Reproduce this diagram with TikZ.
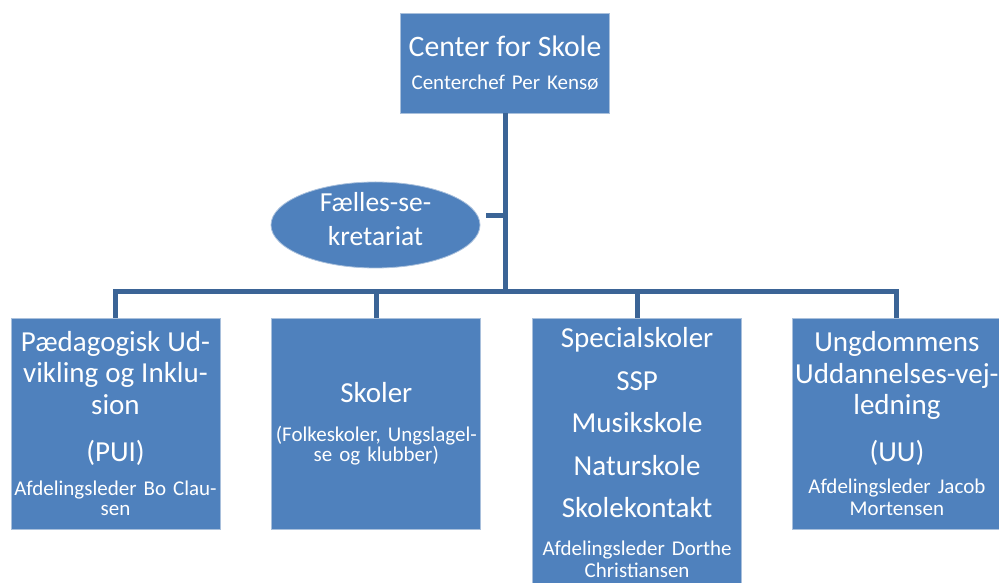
\documentclass[tikz,border=0pt]{standalone}
\usepackage{fontspec}
\setmainfont{Carlito}
\usetikzlibrary{positioning}
\usetikzlibrary{shapes.geometric}
\definecolor{orgfill}{HTML}{4F81BD}
\definecolor{orgline}{HTML}{3B6496}
\definecolor{orgedge}{HTML}{A9C0DC}
\newcommand{\bigtxt}{\fontsize{29}{31.5}\selectfont}
\newcommand{\smalltxt}{\fontsize{21}{20}\selectfont\lineskiplimit=-30pt\relax}
\begin{document}
\begin{tikzpicture}[x=1pt,y=1pt,
  node distance = 51pt,
  box/.style = {rectangle,draw=orgedge,line width=0.8pt,fill=orgfill,text=white,
  minimum width=209pt,minimum height=211pt,inner xsep=0.5pt,inner ysep=4pt,
  text width=208pt,align=center,font=\smalltxt},
  oval/.style = {ellipse,draw=orgedge,line width=0.8pt,fill=orgfill,text=white,
  minimum width=209pt,minimum height=86pt,inner sep=0pt,
  font=\fontsize{27.5}{34}\selectfont},
  conn/.style = {orgline,line width=5pt}]
 \useasboundingbox (0,0) rectangle (999,583);
 \node[box,minimum width=208pt,minimum height=100pt] (c0) at (505,520)
   {{\fontsize{29.7}{34}\selectfont Center for Skole\\[13pt]}Centerchef Per Kensø};
 \node[oval] (e1) at (375.5,358)
   {\raisebox{-2.5pt}[0pt][0pt]{\begin{tabular}{@{}c@{}}Fælles-se-\\kretariat\end{tabular}}};
 \node[box] (b1) at (115.5,159.5)
   {{\bigtxt Pædagogisk Ud-\\vikling og Inklu-\\sion\\[15.5pt](PUI)\\[14pt]}Afdelingsleder Bo Clau-\\sen};
 \node[box,right=of b1] (b2)
   {{\bigtxt Skoler\\[19pt]}(Folkeskoler, Ungslagel-\\se og klubber)};
 \node[box,anchor=north west,minimum height=0pt,inner ysep=9.5pt]
   (b3) at ([xshift=51pt]b2.north east)
   {{\fontsize{29}{42.5}\selectfont Specialskoler\\SSP\\Musikskole\\Naturskole\\Skolekontakt\\[18pt]}Afdelingsleder Dorthe\\[1.5pt]Christiansen\rule[-10pt]{0pt}{10pt}};
 \node[box,anchor=north west] (b4) at ([xshift=50pt]b3.north east)
   {{\bigtxt Ungdommens\\Uddannelses-vej-\\ledning\\[15.5pt](UU)\\[12pt]}Afdelingsleder Jacob\\[1.5pt]Mortensen};
 \begin{scope}[conn]
  \coordinate (bus) at (0,291);
  \draw (c0.south) -- (c0.south |- bus);
  \draw (b1.north) |- (b4.north |- bus) -- (b4.north);
  \draw (b2.north) -- (b2.north |- bus);
  \draw (b3.north) -- (b3.north |- bus);
  \draw ([xshift=6pt,yshift=9pt]e1.east) coordinate (s) -- (s -| c0.south);
 \end{scope}
\end{tikzpicture}
\end{document}
